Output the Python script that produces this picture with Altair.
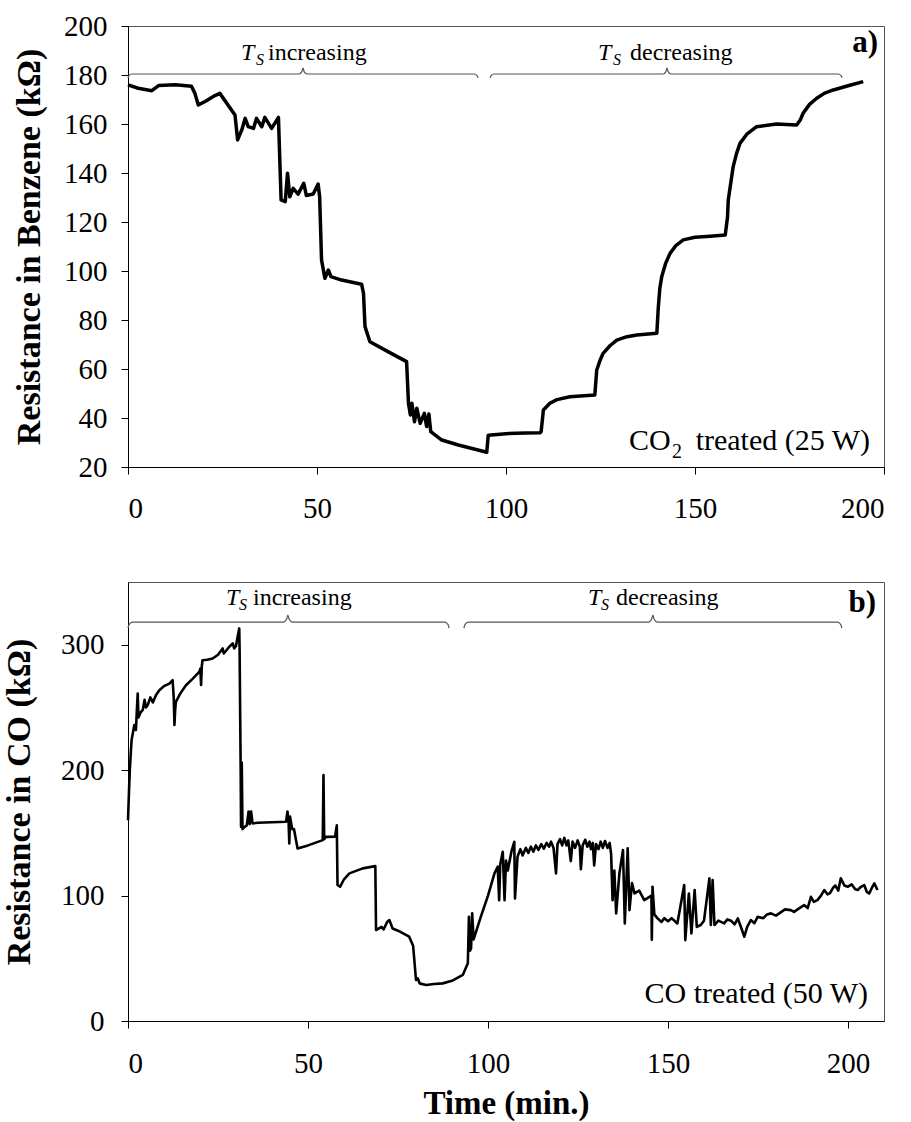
import altair as alt
import pandas as pd

FONT = "Liberation Serif"

# ---------------- Panel a: resistance in benzene (CO2 treated, 25 W) -------------
time_a = [0, 2.7, 6.3, 8.1, 12.5, 16.8, 17.7, 18.6, 20.4, 23.0, 24.3, 28.3, 29.0,
          30.1, 31.0, 31.8, 33.2, 34.0, 35.4, 36.2, 38.0, 39.8, 40.5, 41.6, 42.2, 42.8,
          43.7, 45.0, 46.5, 47.2, 49.0, 50.3, 50.7, 51.2, 52.1, 53.0, 53.7, 56.5, 61.8,
          62.3, 62.7, 64.0, 68.9, 73.7, 74.2, 74.7, 75.1, 75.8, 76.4, 77.3, 78.4, 79.0,
          79.6, 80.1, 83.0, 87.4, 94.4, 94.9, 95.3, 100.0, 105.0, 109.0, 109.3, 109.9,
          111.6, 113.5, 116.9, 123.5, 124.0, 125.0, 125.7, 127.5, 129.3, 132.0, 134.6,
          139.9, 140.3, 140.7, 141.2, 142.2, 143.4, 145.0, 146.9, 150.0, 154.0, 158.0,
          158.6, 158.8, 160.1, 161.0, 161.9, 163.8, 166.3, 171.6, 176.9, 177.8, 178.6,
          180.3, 182.2, 184.3, 186.6, 190.5, 194.5]
res_a = [176.0, 174.6, 173.6, 175.7, 176.0, 175.4, 172.5, 167.8, 169.2, 171.6,
         172.5, 163.7, 153.5, 157.6, 162.3, 158.9, 158.2, 162.3, 158.9, 162.7, 158.2,
         162.7, 129.0, 128.3, 139.9, 130.3, 133.7, 131.4, 135.8, 130.8, 131.4, 135.5,
         130.3, 104.5, 97.0, 100.4, 97.7, 96.3, 94.6, 90.9, 77.3, 71.1, 67.0, 63.0,
         46.0, 41.2, 46.0, 38.5, 44.0, 37.8, 41.9, 36.5, 41.6, 34.4, 31.0, 29.0, 26.2,
         26.0, 33.0, 33.6, 33.9, 34.0, 34.5, 43.3, 46.0, 47.5, 48.7, 49.4, 59.6, 64.0,
         66.4, 69.5, 71.8, 73.2, 73.9, 74.6, 85.4, 93.0, 97.7, 103.0, 107.2, 110.5,
         112.7, 113.8, 114.2, 114.7, 122.0, 129.0, 142.6, 148.0, 152.1, 156.0, 158.9,
         160.0, 159.6, 161.5, 164.4, 168.0, 170.5, 172.6, 173.9, 175.6, 177.3]

# ---------------- Panel b: resistance in CO (CO treated, 50 W) -------------------
time_b = [0.0, 0.3, 0.5, 0.8, 1.0, 1.5, 1.75, 2.2, 2.5, 2.7, 2.9, 3.5, 4.1, 4.6, 5.0,
          5.5, 6.2, 6.9, 7.8, 8.7, 10.0, 11.5, 12.4, 12.7, 12.9, 13.1, 13.3, 14.5, 16.1,
          18.0, 19.8, 20.1, 20.3, 20.5, 20.7, 22.0, 23.5, 25.0, 26.3, 26.6, 27.2, 28.0,
          29.1, 29.5, 30.0, 30.5, 30.9, 31.0, 31.3, 31.4, 31.6, 31.8, 32.5, 33.0, 33.5,
          33.8, 34.2, 34.6, 36.0, 40.0, 43.9, 44.3, 44.6, 44.8, 45.0, 45.6, 46.1, 47.1,
          50.0, 54.1, 54.3, 54.5, 55.0, 57.5, 58.0, 58.2, 58.9, 60.0, 61.5, 65.2, 68.7,
          68.9, 70.4, 71.0, 72.0, 72.6, 73.5, 75.0, 78.1, 79.2, 80.0, 80.5, 81.0, 82.8,
          85.0, 87.4, 90.0, 93.0, 94.4, 94.7, 95.0, 95.3, 95.6, 96.0, 98.0, 100.0, 101.8,
          102.7, 103.1, 103.4, 104.1, 104.6, 105.0, 105.5, 106.5, 107.3, 107.5, 108.2,
          109.0, 109.6, 110.5, 111.2, 111.9, 112.6, 113.3, 114.0, 114.8, 115.5, 116.3,
          117.0, 117.5, 118.2, 118.9, 119.3, 120.0, 120.6, 121.2, 121.8, 122.3, 123.0,
          123.5, 124.2, 124.9, 125.5, 125.8, 126.3, 127.0, 127.6, 128.2, 128.6, 129.1,
          129.5, 130.0, 130.7, 131.3, 131.9, 132.5, 133.2, 133.8, 134.2,
          134.6, 135.1, 135.6, 136.5, 137.5, 138.0, 138.8, 139.3, 140.0, 140.7, 142.0,
          143.4, 145.4, 145.5, 145.7, 146.2, 147.1, 148.2, 149.0, 150.0, 151.0, 152.6,
          154.5, 154.8, 155.8, 156.5, 157.4, 158.0, 159.1, 160.0, 161.5, 161.9, 162.4,
          162.9, 164.0, 165.6, 166.5, 167.5, 168.5, 169.4, 170.5, 171.2, 172.0, 173.0,
          174.0, 174.9, 176.5, 177.5, 178.6, 180.0, 181.0, 182.5, 184.1, 185.0, 186.0,
          187.8, 188.8, 189.7, 190.5, 191.5, 192.5, 193.4, 194.3, 195.0, 195.8, 196.5,
          197.3, 198.0, 199.0, 199.9, 201.0, 202.0, 202.7, 203.6, 204.5, 205.2, 205.9,
          206.6, 207.3, 208.2]
res_b = [160, 185, 200, 215, 224, 232, 236, 232, 250, 261, 242, 246, 248, 256, 250,
         252, 258, 254, 260, 263.7, 267, 269, 271.7, 258, 236, 248, 254.4, 261, 267.7,
         273, 278.3, 281, 268, 283, 287.6, 288, 289, 292, 297, 293, 295, 298,
         301, 297, 299, 307, 313, 296, 200, 154.8, 206, 153, 155, 156, 167,
         157, 167, 157.5, 158, 158.5, 158.8, 167, 160, 141.6, 163, 153, 153, 137.6,
         140, 144.2, 196, 145, 146.8, 147, 156, 108.4, 107, 113, 117.7, 121.7, 123.5,
         72.5, 75.1, 73, 79, 80.5, 73.7, 72, 67.2, 60, 32.7, 34, 30, 28.7,
         29.5, 30, 32, 36.7, 46, 83.1, 56, 58, 85.8, 65, 83, 100, 117.7,
         123, 96.4, 125, 134.9, 96.4, 128, 120, 135, 142.9, 97.7, 130.9,
         137, 132, 138, 134, 139, 135, 140, 136.5, 141, 137.5, 142,
         139, 143, 138, 117.7, 141, 145, 140, 146, 140, 144, 127.5,
         143, 138, 144, 139, 121, 140, 144.5, 139, 143, 137, 142,
         124, 141, 137, 143, 138, 143.5, 138, 142, 133,
         96.4, 120, 85.8, 117.7, 136.3, 77.8, 137.6, 88.4, 110, 101.7, 104,
         96.4, 100, 64.7, 107, 85, 81.8, 79, 82, 79.5, 82, 77.8,
         108.4, 64.5, 101.7, 69.8, 104.4, 75, 76.5, 80, 113.7, 76.5, 112.3,
         76.5, 80, 77.8, 81, 80, 77, 81.8, 73, 67.2, 75, 80.5,
         78, 83, 82, 85, 85.8, 84, 86, 89, 88.4, 87, 89,
         92.4, 90, 99, 95, 96.4, 100, 104.4, 101, 102, 106, 108,
         104, 113.7, 108, 107, 109, 105, 104.4, 107, 108.4, 103, 101.7,
         106, 109.7, 104.4]

# brace annotations: (start, end, middle) in minutes
braces_a = [(0.0, 92.6, 46.3), (95.8, 188.9, 142.6)]
braces_b = [(0.0, 89.2, 44.4), (93.3, 198.3, 145.8)]


def brace_frame(braces, y0, d, c, e):
    rows = []
    for bid, (x0, x1, xm) in enumerate(braces):
        pts = [(x0, y0 - d), (x0 + 0.25 * e, y0 - 0.4 * d), (x0 + e, y0),
               (xm - e, y0), (xm - 0.3 * e, y0 + 0.4 * c), (xm, y0 + c),
               (xm + 0.3 * e, y0 + 0.4 * c), (xm + e, y0),
               (x1 - e, y0), (x1 - 0.25 * e, y0 - 0.4 * d), (x1, y0 - d)]
        for i, (px, py) in enumerate(pts):
            rows.append({"t": px, "v": py, "brace": bid, "i": i})
    return pd.DataFrame(rows)


def text_layer(text, px, py, size, style="normal", weight="normal", align="left"):
    return alt.Chart(pd.DataFrame({"s": [text]})).mark_text(
        text=text, font=FONT, fontSize=size, fontStyle=style, fontWeight=weight,
        align=align, baseline="alphabetic", color="black"
    ).encode(x=alt.value(px), y=alt.value(py))


def panel(times, values, xdom, ydom, yvals, ytitle, ytitle_x, braces, w, h,
          annots, line_w, xtitle=None, xlabel_pad=20, ylabel_pad=14):
    df = pd.DataFrame({"t": times, "v": values, "i": list(range(len(times)))})
    xaxis_kw = dict(values=[0, 50, 100, 150, 200], labelFont=FONT, labelFontSize=29,
                    labelColor="black", labelPadding=xlabel_pad, tickSize=7,
                    tickColor="black", domainColor="black", grid=False)
    if xtitle:
        xaxis = alt.Axis(title=xtitle, titleFont=FONT, titleFontSize=33,
                         titleFontWeight="bold", titleColor="black", titleX=w / 2,
                         titleY=92, titleAlign="center", titleBaseline="alphabetic",
                         **xaxis_kw)
    else:
        xaxis = alt.Axis(title=None, **xaxis_kw)
    yaxis = alt.Axis(values=yvals, title=ytitle, titleFont=FONT, titleFontSize=34,
                     titleFontWeight="bold", titleColor="black", titleAngle=270,
                     titleX=ytitle_x, titleY=h / 2, titleAlign="center",
                     titleBaseline="alphabetic", labelFont=FONT, labelFontSize=29,
                     labelColor="black", labelPadding=ylabel_pad, tickSize=7,
                     tickColor="black", domainColor="black", grid=False)
    X = alt.X("t:Q", scale=alt.Scale(domain=xdom, nice=False, zero=False), axis=xaxis)
    Y = alt.Y("v:Q", scale=alt.Scale(domain=ydom, nice=False, zero=False), axis=yaxis)

    line = alt.Chart(df).mark_line(color="black", strokeWidth=line_w,
                                   strokeJoin="round").encode(
        x=X, y=Y, order=alt.Order("i:Q"))
    br = alt.Chart(braces).mark_line(color="#555555", strokeWidth=1.2,
                                     interpolate="monotone").encode(
        x=X, y=Y, detail="brace:N", order=alt.Order("i:Q"))
    layers = [line, br] + [text_layer(*a) for a in annots]
    return alt.layer(*layers).properties(width=w, height=h)


annots_a = [
    ("T", 113, 34, 24, "italic"),
    ("S", 128, 39, 16, "italic"),
    ("increasing", 140, 34, 24),
    ("T", 470, 34, 24, "italic"),
    ("S", 485, 39, 16, "italic"),
    ("decreasing", 502, 34, 24),
    ("a)", 750, 26, 31, "normal", "bold", "right"),
    ("CO", 501, 424, 30),
    ("2", 544, 432, 20),
    ("treated (25 W)", 742, 424, 30, "normal", "normal", "right"),
]
annots_b = [
    ("T", 98, 23, 24, "italic"),
    ("S", 111, 28, 16, "italic"),
    ("increasing", 125, 23, 24),
    ("T", 460, 23, 24, "italic"),
    ("S", 473, 28, 16, "italic"),
    ("decreasing", 488, 23, 24),
    ("b)", 748, 30, 31, "normal", "bold", "right"),
    ("CO treated (50 W)", 740, 421, 30, "normal", "normal", "right"),
]

pa = panel(time_a, res_a, [0, 200], [20, 200], list(range(20, 201, 20)),
           "Resistance in Benzene (kΩ)", -89,
           brace_frame(braces_a, 180.4, 1.6, 2.4, 1.0), 756, 441, annots_a, 3.5,
           xlabel_pad=20, ylabel_pad=14)
pb = panel(time_b, res_b, [0, 210], [0, 350], [0, 100, 200, 300],
           "Resistance in CO (kΩ)", -99,
           brace_frame(braces_b, 318, 4.8, 5.6, 1.2), 756, 439, annots_b, 2.6,
           xtitle="Time (min.)", xlabel_pad=21, ylabel_pad=17)

chart = alt.vconcat(pa, pb, spacing=115, bounds="flush").configure_view(
    stroke="#555555", strokeWidth=1
).properties(padding={"left": 1, "top": 11, "right": 0, "bottom": 0},
             background="white")

chart.save("out.html", embed_options={"renderer": "svg", "actions": False})
